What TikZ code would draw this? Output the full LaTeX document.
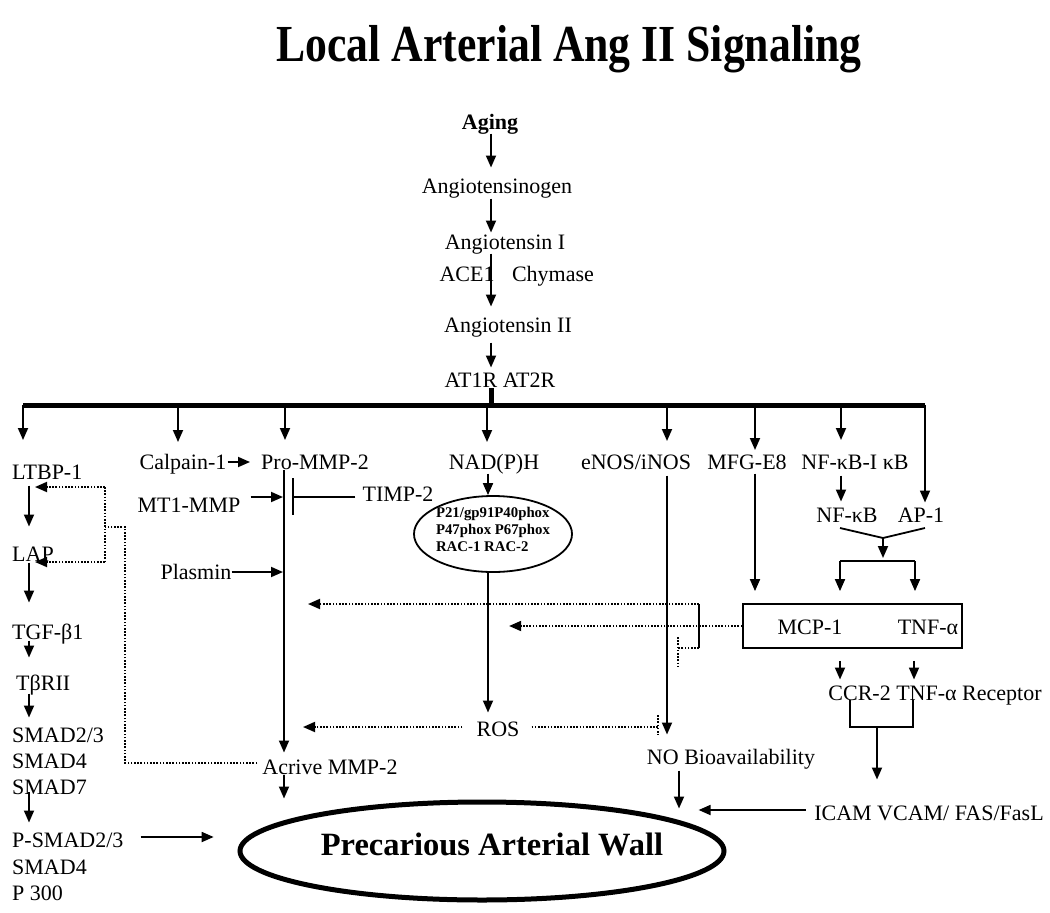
\documentclass[tikz,border=0pt]{standalone}
\usepackage{fontspec}
\usepackage{graphicx}
\setmainfont{Liberation Serif}
\usetikzlibrary{arrows.meta,shapes.geometric,calc}
\begin{document}
\begin{tikzpicture}[x=1pt,y=-1pt,
  lbl/.style={font=\fontsize{22}{26}\selectfont, inner sep=0pt, text height=14.6pt, text depth=0pt},
  lblb/.style={lbl, font=\fontsize{22}{26}\selectfont\bfseries},
  ttl/.style={font=\fontsize{52}{60}\selectfont\bfseries, inner sep=0pt, text height=34.4pt, text depth=0pt},
  arr/.style={line width=1.8pt, -{Triangle[length=12pt,width=10pt]}},
  darr/.style={line width=1.8pt, dash pattern=on 1.6pt off 1.6pt, -{Triangle[length=12pt,width=10pt]}},
  dln/.style={line width=1.8pt, dash pattern=on 1.6pt off 1.6pt},
  ln/.style={line width=1.8pt},
  busline/.style={line width=5pt},
  phoxnode/.style={draw, ellipse, line width=1.8pt, minimum width=158pt, minimum height=76pt, inner sep=0pt},
  phoxtxt/.style={inner sep=0pt, align=left, font=\fontsize{14.8}{17}\selectfont\bfseries},
  wallnode/.style={draw, ellipse, line width=5pt, minimum width=484pt, minimum height=98pt, inner sep=0pt},
]
\useasboundingbox (0,0) rectangle (1050,913);

% ---------- title ----------
\node[ttl] (title) at (569,44.5) {\scalebox{0.84}[1]{Local Arterial Ang II Signaling}};

% ---------- main chain ----------
\node[lblb] (aging) at (490,122) {Aging};
\node[lbl] (angen) at (497,186) {Angiotensinogen};
\node[lbl] (ang1) at (505,242) {Angiotensin I};
\node[lbl] (ace) at (467,274) {ACE1};
\node[lbl] (chy) at (553,274) {Chymase};
\node[lbl] (ang2) at (508,325) {Angiotensin II};
\node[lbl] (at) at (500,380.5) {AT1R AT2R};
\coordinate (sp) at (491,0);
\draw[arr, shorten <=4pt, shorten >=11pt] (aging.south -| sp) -- (angen.north -| sp);
\draw[arr, shorten <=5pt, shorten >=2pt] (angen.south -| sp) -- (ang1.north -| sp);
\draw[arr, shorten <=4pt, shorten >=11pt] (ang1.south -| sp) -- (ang2.north -| sp);
\draw[arr, shorten <=10pt, shorten >=5.5pt] (ang2.south -| sp) -- (at.north -| sp);

% ---------- bus ----------
\coordinate (b0) at (491,405);
\coordinate (d1) at (23,405);
\coordinate (d2) at (178,405);
\coordinate (d3) at (285,405);
\coordinate (d4) at (487,405);
\coordinate (d5) at (667,405);
\coordinate (d6) at (755,405);
\coordinate (d7) at (841,405);
\coordinate (d8) at (925,405);
\draw[busline] (at.south -| sp) -- (b0);
\draw[busline] (d1) -- (d8);
\draw[arr] (d1) -- ++(0,35);
\draw[arr] (d2) -- ++(0,37);
\draw[arr] (d3) -- ++(0,35);
\draw[arr] (d4) -- ++(0,37);
\draw[arr] (d5) -- ++(0,36);
\draw[arr] (d6) -- ++(0,45);
\draw[arr] (d7) -- ++(0,35);

% ---------- left column ----------
\node[lbl,anchor=west] (ltbp) at (12,472) {LTBP-1};
\node[lbl,anchor=west] (lap) at (12,554) {LAP};
\node[lbl,anchor=west] (tgf) at (12,632) {TGF-β1};
\node[lbl,anchor=west] (tbr) at (16,683) {TβRII};
\node[lbl,anchor=west] (sm1) at (12,735) {SMAD2/3};
\node[lbl,anchor=west] (sm2) at (12,761) {SMAD4};
\node[lbl,anchor=west] (sm3) at (12,787) {SMAD7};
\node[lbl,anchor=west] (ps1) at (12,840) {P-SMAD2/3};
\node[lbl,anchor=west] (ps2) at (12,867) {SMAD4};
\node[lbl,anchor=west] (ps3) at (12,893) {P 300};
\coordinate (lx) at (29,0);
\draw[arr, shorten <=6pt, shorten >=20pt] (ltbp.south -| lx) -- (lap.north -| lx);
\draw[arr, shorten <=1pt, shorten >=22pt] (lap.south -| lx) -- (tgf.north -| lx);
\draw[arr, shorten <=1pt, shorten >=18pt] (tgf.south -| lx) -- (tbr.north -| lx);
\draw[arr, shorten <=3pt, shorten >=10pt] (tbr.south -| lx) -- (sm1.north -| lx);
\draw[arr, shorten <=5pt, shorten >=10pt] (sm3.center -| lx) -- (ps1.north -| lx);
\draw[arr] ([xshift=17pt,yshift=3pt]ps1.east) -- ++(73,0);

% dotted feedback to LTBP-1 / LAP
\coordinate (f1) at (105,487);
\coordinate (f2) at (105,562);
\coordinate (f3) at (105,527);
\draw[darr, shorten >=6pt] (f1) -- (f1 -| lx);
\draw[dln] (f1) -- (f2);
\draw[darr, shorten >=6pt] (f2) -- (f2 -| lx);

% ---------- MMP-2 column ----------
\node[lbl] (calp) at (183,462) {Calpain-1};
\node[lbl] (pro) at (315,462) {Pro-MMP-2};
\node[lbl] (mt1) at (189,505) {MT1-MMP};
\node[lbl] (timp) at (398,494) {TIMP-2};
\node[lbl] (plas) at (196,572) {Plasmin};
\node[lbl] (act) at (330,767) {Acrive MMP-2};
\coordinate (px) at (284,0);
\coordinate (tx) at (293,0);
\coordinate (tb1) at (293,478);
\coordinate (tb2) at (293,515);
\draw[arr, shorten <=1pt, shorten >=11pt] (calp.east) -- (pro.west);
\draw[arr, shorten >=7pt] (pro.south -| px) -- (act.north -| px);
\draw[arr, shorten <=10pt, shorten >=1pt] ([yshift=8pt]mt1.east) -- ([yshift=8pt]mt1.east -| px);
\draw[ln, shorten <=7pt] ([yshift=-3pt]timp.west) -- ([yshift=-3pt]timp.west -| tx);
\draw[ln] (tb1) -- (tb2);
\draw[arr, shorten >=1pt] (plas.east) -- (plas.east -| px);
\draw[arr] (act.south -| px) -- ++(0,24);
\draw[dln, shorten <=5pt] ([yshift=4pt]act.west) -| (125,527) -- (f3);

% ---------- NAD(P)H column ----------
\node[lbl] (nadph) at (494,462) {NAD(P)H};
\node[phoxnode] (phox) at (493,534) {};
\node[phoxtxt] (phoxt) at (493,529) {P21/gp91P40phox\\P47phox P67phox\\RAC-1 RAC-2};
\node[lbl] (ros) at (498,729) {ROS};
\coordinate (nx) at (488,0);
\coordinate (rb) at (658,0);
\coordinate (rb1) at (658,715);
\coordinate (rb2) at (658,735);
\draw[arr, shorten <=4pt] (nadph.south -| nx) -- (phox.north -| nx);
\draw[arr, shorten >=9pt] (phox.south -| nx) -- (ros.north -| nx);
\draw[darr, shorten <=14pt, shorten >=19pt] ([yshift=2pt]ros.west) -- ([yshift=2pt]ros.west -| px);
\draw[dln, shorten <=12pt] ([yshift=2pt]ros.east) -- ([yshift=2pt]ros.east -| rb);
\draw[dln] (rb1) -- (rb2);

% ---------- eNOS column ----------
\node[lbl] (enos) at (636,462) {eNOS/iNOS};
\node[lbl] (nob) at (731,757) {NO Bioavailability};
\coordinate (ex) at (667,0);
\coordinate (nbx) at (679,0);
\draw[arr, shorten <=6pt, shorten >=15pt] (enos.south -| ex) -- (nob.north -| ex);
\draw[arr, shorten <=6pt] (nob.south -| nbx) -- ++(0,44);

% ---------- MFG-E8 / NF-kB / box ----------
\node[lbl] (mfg) at (747,462) {MFG-E8};
\node[lbl] (nfi) at (855,462) {NF-κB-I κB};
\node[lbl] (nfk) at (847,515) {NF-κB};
\node[lbl] (ap1) at (921,515) {AP-1};
\node[draw, line width=1.8pt, minimum width=219pt, minimum height=44pt, inner sep=0pt] (box) at (852.5,626) {};
\node[lbl] (mcp) at (810,627) {MCP-1};
\node[lbl] (tnf) at (928,627) {TNF-α};
\coordinate (mx) at (755,0);
\coordinate (kx) at (841,0);
\draw[arr, shorten <=4pt, shorten >=12pt] (mfg.south -| mx) -- (box.north -| mx);
\draw[arr, shorten <=6pt, shorten >=6pt] (nfi.south -| kx) -- (nfk.north -| kx);
\draw[arr, shorten >=5pt] (d8) -- (ap1.north -| d8);
\coordinate (v1) at (840,528);
\coordinate (v2) at (883,538);
\coordinate (v3) at (925,528);
\draw[ln] (v1) -- (v2) -- (v3);
\draw[arr] (v2) -- ++(0,20);
\coordinate (h1) at (840,561);
\coordinate (h2) at (915,561);
\draw[ln] (h1) -- (h2);
\draw[arr, shorten >=12pt] (h1) -- (h1 |- box.north);
\draw[arr, shorten >=12pt] (h2) -- (h2 |- box.north);

% dotted lines from the box
\coordinate (u1) at (699,604);
\coordinate (u2) at (699,648);
\coordinate (u3) at (678,648);
\coordinate (u4) at (678,637);
\coordinate (u5) at (678,668);
\draw[darr] (box.west) -- ++(-233,0);
\draw[darr, shorten >=24pt] (u1) -- (u1 -| px);
\draw[ln] (u1) -- (u2);
\draw[dln] (u2) -- (u3);
\draw[dln] (u4) -- (u5);

% ---------- receptors ----------
\node[lbl] (ccr) at (935,693) {CCR-2 TNF-α Receptor};
\node[lbl] (icam) at (929,813) {ICAM VCAM/ FAS/FasL};
\coordinate (c1) at (840,0);
\coordinate (c2) at (914,0);
\draw[arr, shorten <=12pt, shorten >=6pt] (box.south -| c1) -- (ccr.north -| c1);
\draw[arr, shorten <=12pt, shorten >=6pt] (box.south -| c2) -- (ccr.north -| c2);
\coordinate (q1) at (850,700);
\coordinate (q2) at (850,727);
\coordinate (q3) at (913,727);
\coordinate (q4) at (913,700);
\coordinate (q5) at (877,727);
\draw[ln] (q1) -- (q2) -- (q3) -- (q4);
\draw[arr, shorten >=26pt] (q5) -- (icam.north -| q5);
\draw[arr, shorten <=8.5pt] ([yshift=3pt]icam.west) -- ++(-115.5,0);

% ---------- arterial wall ----------
\node[wallnode] (wall) at (482,851) {};
\node[font=\fontsize{32.5}{38}\selectfont\bfseries, inner sep=0pt] (walltxt) at (492,844) {Precarious Arterial Wall};
\end{tikzpicture}
\end{document}
